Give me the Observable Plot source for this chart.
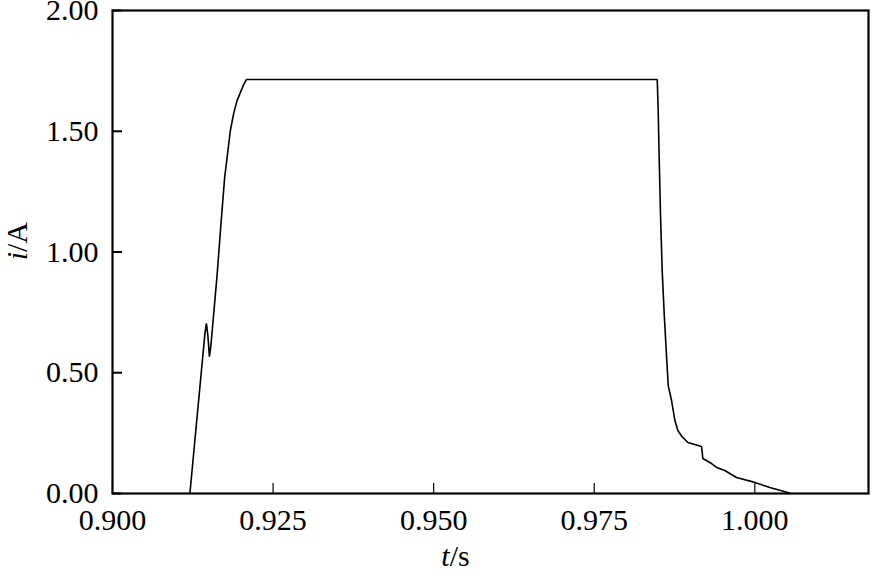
<!DOCTYPE html>
<html>
<head>
<meta charset="utf-8">
<script src="https://cdn.jsdelivr.net/npm/d3@7"></script>
<script src="https://cdn.jsdelivr.net/npm/@observablehq/plot@0.6"></script>
<style>
  html, body { margin: 0; padding: 0; background: #fff; }
  #chart svg { display: block; font-family: "Liberation Serif", "Times New Roman", serif !important; }
  #chart svg text { font-family: "Liberation Serif", "Times New Roman", serif !important; }
</style>
</head>
<body>
<div id="chart"></div>
<script>
// time (s)
const tValues = [0.91205, 0.91438, 0.91462, 0.91485, 0.91509, 0.91532, 0.91566, 0.91628, 0.91687, 0.91746, 0.91784, 0.91835, 0.91886, 0.91939, 0.91991, 0.92037, 0.92084, 0.98481, 0.98496, 0.98512, 0.98533, 0.98558, 0.98589, 0.98627, 0.98652, 0.98704, 0.98756, 0.98802, 0.98865, 0.98958, 0.99171, 0.99191, 0.99327, 0.99404, 0.99533, 0.99715, 1.0, 1.00233, 1.00513, 1.00544];
// current (A)
const iValues = [0, 0.660, 0.704, 0.654, 0.567, 0.613, 0.716, 0.903, 1.110, 1.308, 1.391, 1.503, 1.573, 1.627, 1.660, 1.690, 1.714, 1.714, 1.586, 1.379, 1.143, 0.923, 0.745, 0.563, 0.447, 0.385, 0.302, 0.261, 0.236, 0.211, 0.195, 0.145, 0.124, 0.108, 0.095, 0.066, 0.046, 0.025, 0.004, 0];

const xTicks = [0.900, 0.925, 0.950, 0.975, 1.000];
const yTicks = [0, 0.5, 1.0, 1.5, 2.0];
const xDomain = [0.9, 1.0177];
const yDomain = [0, 2];

const data = tValues.map((t, k) => ({t, i: iValues[k]}));

const chart = Plot.plot({
  width: 872,
  height: 575,
  marginLeft: 112,
  marginRight: 4,
  marginTop: 10,
  marginBottom: 82,
  style: {fontSize: "30px", color: "#000", background: "#fff"},
  x: {domain: xDomain},
  y: {domain: yDomain},
  marks: [
    Plot.axisX({ticks: xTicks, tickFormat: ".3f", tickSize: -10, tickPadding: 25, strokeWidth: 1.2, label: null, fontSize: 30}),
    Plot.axisY({ticks: yTicks, tickFormat: ".2f", tickSize: -10, tickPadding: 24, strokeWidth: 2, label: null, fontSize: 30}),
    Plot.line(data, {x: "t", y: "i", stroke: "#000", strokeWidth: 1.6, strokeLinejoin: "miter"}),
    Plot.frame({stroke: "#000", strokeWidth: 2.2}),
    Plot.text(["t"], {x: [0.9525], frameAnchor: "bottom", dy: 72, text: d => d, textAnchor: "end", fontStyle: "italic", fontSize: 30}),
    Plot.text(["/s"], {x: [0.9525], frameAnchor: "bottom", dy: 72, text: d => d, textAnchor: "start", fontSize: 30}),
    Plot.text(["i"], {y: [1.0], frameAnchor: "left", dx: -95, rotate: -90, text: d => d, textAnchor: "end", fontStyle: "italic", fontSize: 30}),
    Plot.text(["/A"], {y: [1.0], frameAnchor: "left", dx: -95, rotate: -90, text: d => d, textAnchor: "start", fontSize: 30})
  ]
});
document.getElementById("chart").appendChild(chart);
</script>
</body>
</html>
